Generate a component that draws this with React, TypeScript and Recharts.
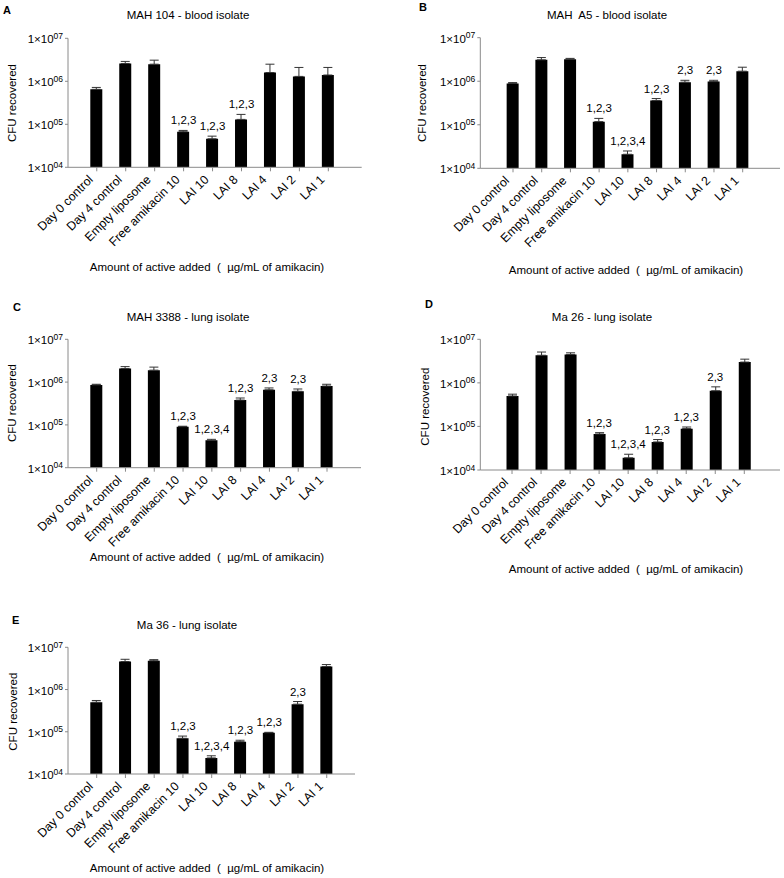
import React from 'react';
import { ComposedChart, Bar, Line, XAxis, YAxis, ErrorBar, LabelList } from 'recharts';

// ---------- data ----------
const categories = [
  'Day 0 control', 'Day 4 control', 'Empty liposome', 'Free amikacin 10',
  'LAI 10', 'LAI 8', 'LAI 4', 'LAI 2', 'LAI 1',
];
const yTicks = [1e4, 1e5, 1e6, 1e7];

const mah104Mean = [6.5e5, 2.6e6, 2.5e6, 6.7e4, 4.6e4, 1.3e5, 1.6e6, 1.3e6, 1.4e6];
const mah104Upper = [7.2e5, 2.9e6, 3.1e6, 7.2e4, 5.3e4, 1.7e5, 2.5e6, 2.1e6, 2.1e6];
const mah104Marks = ['', '', '', '1,2,3', '1,2,3', '1,2,3', '', '', ''];

const mahA5Mean = [8.9e5, 3.1e6, 3.2e6, 1.18e5, 2.1e4, 3.6e5, 9.5e5, 9.8e5, 1.7e6];
const mahA5Upper = [9.3e5, 3.5e6, 3.35e6, 1.4e5, 2.5e4, 4.0e5, 1.05e6, 1.05e6, 2.1e6];
const mahA5Marks = ['', '', '', '1,2,3', '1,2,3,4', '1,2,3', '2,3', '2,3', ''];

const mah3388Mean = [8.6e5, 2.07e6, 1.9e6, 9.1e4, 4.35e4, 3.8e5, 6.6e5, 6.1e5, 8.1e5];
const mah3388Upper = [8.9e5, 2.3e6, 2.24e6, 9.3e4, 4.6e4, 4.25e5, 7.3e5, 6.9e5, 8.9e5];
const mah3388Marks = ['', '', '', '1,2,3', '1,2,3,4', '1,2,3', '2,3', '2,3', ''];

const ma26Mean = [5.0e5, 4.3e6, 4.5e6, 6.7e4, 1.9e4, 4.4e4, 8.9e4, 6.6e5, 3.0e6];
const ma26Upper = [5.5e5, 5.1e6, 4.9e6, 7.2e4, 2.3e4, 5.0e4, 9.7e4, 8.1e5, 3.5e6];
const ma26Marks = ['', '', '', '1,2,3', '1,2,3,4', '1,2,3', '1,2,3', '2,3', ''];

const ma36Mean = [5.0e5, 4.6e6, 4.8e6, 7.0e4, 2.4e4, 5.8e4, 9.5e4, 4.5e5, 3.5e6];
const ma36Upper = [5.5e5, 5.2e6, 5.1e6, 7.9e4, 2.7e4, 6.3e4, 9.7e4, 5.2e5, 3.9e6];
const ma36Marks = ['', '', '', '1,2,3', '1,2,3,4', '1,2,3', '1,2,3', '2,3', ''];

const panelLetters = ['A', 'B', 'C', 'D', 'E'];
const panelTitles = [
  'MAH 104 - blood isolate',
  'MAH  A5 - blood isolate',
  'MAH 3388 - lung isolate',
  'Ma 26 - lung isolate',
  'Ma 36 - lung isolate',
];
const xTitle = 'Amount of active added  (  \u00b5g/mL of amikacin)';
const yTitle = 'CFU recovered';
const tickBase = '1\u00d710';

// ---------- layout ----------
const FONT = '"Liberation Sans", Arial, Helvetica, sans-serif';
const AXIS = '#8a8a8a';
const YW = 60;
const XH = 100;

type Layout = {
  box: { x: number; y: number; w: number; h: number };
  plot: { l: number; r: number; t: number; b: number };
  pad: { left: number; right: number };
  letter: [number, number];
  title: [number, number];
  xt: [number, number];
  yt: [number, number];
};

const layouts: Layout[] = [
  { box: { x: 0, y: 0, w: 392, h: 290 }, plot: { l: 68, r: 361.7, t: 38.3, b: 167.3 }, pad: { left: 14.3, right: 18.9 }, letter: [3, 13.5], title: [188, 19], xt: [207, 270.5], yt: [16, 103] },
  { box: { x: 392, y: 0, w: 392, h: 290 }, plot: { l: 480.3, r: 780, t: 37.7, b: 168.3 }, pad: { left: 18.35, right: 22.95 }, letter: [419, 11], title: [607, 18.5], xt: [626, 274], yt: [426, 103] },
  { box: { x: 0, y: 290, w: 392, h: 290 }, plot: { l: 68, r: 361, t: 339.3, b: 467.7 }, pad: { left: 14.3, right: 19.6 }, letter: [13, 311], title: [188, 320.5], xt: [207, 560.5], yt: [16, 403] },
  { box: { x: 392, y: 290, w: 392, h: 290 }, plot: { l: 480.3, r: 780, t: 339.3, b: 470 }, pad: { left: 17.2, right: 21.2 }, letter: [425, 307.5], title: [602, 320.5], xt: [626, 572.5], yt: [429.5, 406.7] },
  { box: { x: 0, y: 580, w: 392, h: 298 }, plot: { l: 68, r: 355, t: 647.3, b: 774 }, pad: { left: 14.3, right: 13.9 }, letter: [12, 623.5], title: [187, 629], xt: [207, 872], yt: [17, 711.7] },
];

const buildRows = (mean: number[], upper: number[], marks: string[]) =>
  categories.map((cat, i) => ({
    cat,
    mean: mean[i],
    upper: upper[i],
    err: [0, upper[i] - mean[i]],
    mark: marks[i] ? marks[i] : undefined,
  }));

const panelsData = [
  buildRows(mah104Mean, mah104Upper, mah104Marks),
  buildRows(mahA5Mean, mahA5Upper, mahA5Marks),
  buildRows(mah3388Mean, mah3388Upper, mah3388Marks),
  buildRows(ma26Mean, ma26Upper, ma26Marks),
  buildRows(ma36Mean, ma36Upper, ma36Marks),
];

const YTick = (props: any) => {
  const { x, y, payload } = props;
  const exp = Math.round(Math.log10(payload.value));
  const sup = (exp < 10 ? '0' : '') + exp;
  return (
    <text x={x} y={y} textAnchor="end" fontFamily={FONT} fill="#000">
      <tspan dy={5} fontSize={11.5}>{tickBase}</tspan>
      <tspan dy={-4.5} fontSize={8.5}>{sup}</tspan>
    </text>
  );
};

const XTick = (props: any) => {
  const { x, y, payload } = props;
  const ax = x - 3;
  const ay = y + 9;
  return (
    <text x={ax} y={ay} transform={`rotate(-45 ${ax} ${ay})`} textAnchor="end" fontSize={12.3} fontFamily={FONT} fill="#000">
      {payload.value}
    </text>
  );
};

const MarkLabel = (props: any) => {
  const vb = props.viewBox || {};
  const x = props.x ?? vb.x;
  const y = props.y ?? vb.y;
  const v = props.value;
  if (!v || x == null || y == null) return null;
  return (
    <text x={x} y={y - 6} textAnchor="middle" fontSize={11.5} fontFamily={FONT} fill="#000">
      {v}
    </text>
  );
};

const Panel = ({ idx }: { idx: number }) => {
  const L = layouts[idx];
  const { box, plot } = L;
  const margin = {
    top: plot.t - box.y,
    right: box.x + box.w - plot.r,
    left: plot.l - box.x - YW,
    bottom: box.y + box.h - plot.b - XH,
  };
  return (
    <div style={{ position: 'absolute', left: box.x, top: box.y, width: box.w, height: box.h }}>
      <ComposedChart width={box.w} height={box.h} data={panelsData[idx]} margin={margin}>
        <XAxis
          dataKey="cat"
          type="category"
          interval={0}
          height={XH}
          padding={L.pad}
          tick={<XTick />}
          tickSize={4}
          tickMargin={0}
          axisLine={{ stroke: AXIS }}
          tickLine={{ stroke: AXIS }}
        />
        <YAxis
          type="number"
          scale="log"
          domain={[1e4, 1e7]}
          allowDataOverflow
          ticks={yTicks}
          width={YW}
          tick={<YTick />}
          tickSize={3}
          tickMargin={2}
          axisLine={{ stroke: AXIS }}
          tickLine={{ stroke: AXIS }}
        />
        <Bar dataKey="mean" fill="#000" barSize={12} isAnimationActive={false}>
          <ErrorBar dataKey="err" direction="y" width={4.5} stroke="#333" strokeWidth={1} />
        </Bar>
        <Line dataKey="upper" stroke="none" dot={false} activeDot={false} isAnimationActive={false} legendType="none">
          <LabelList dataKey="mark" content={<MarkLabel />} />
        </Line>
      </ComposedChart>
    </div>
  );
};

export default function App() {
  return (
    <div style={{ position: 'absolute', left: 0, top: 0, width: 784, height: 878, background: '#fff', fontFamily: FONT }}>
      {layouts.map((_, i) => (
        <Panel key={i} idx={i} />
      ))}
      <svg width={784} height={878} style={{ position: 'absolute', left: 0, top: 0, pointerEvents: 'none' }}>
        {layouts.map((L, i) => (
          <g key={i} fontFamily={FONT} fill="#000">
            <text x={L.letter[0]} y={L.letter[1]} fontSize={11} fontWeight="bold">{panelLetters[i]}</text>
            <text x={L.title[0]} y={L.title[1]} fontSize={11.5} textAnchor="middle" style={{ whiteSpace: 'pre' }}>{panelTitles[i]}</text>
            <text x={L.xt[0]} y={L.xt[1]} fontSize={11.5} textAnchor="middle" style={{ whiteSpace: 'pre' }}>{xTitle}</text>
            <text x={L.yt[0]} y={L.yt[1]} fontSize={11.5} textAnchor="middle" transform={`rotate(-90 ${L.yt[0]} ${L.yt[1]})`}>{yTitle}</text>
          </g>
        ))}
      </svg>
    </div>
  );
}
